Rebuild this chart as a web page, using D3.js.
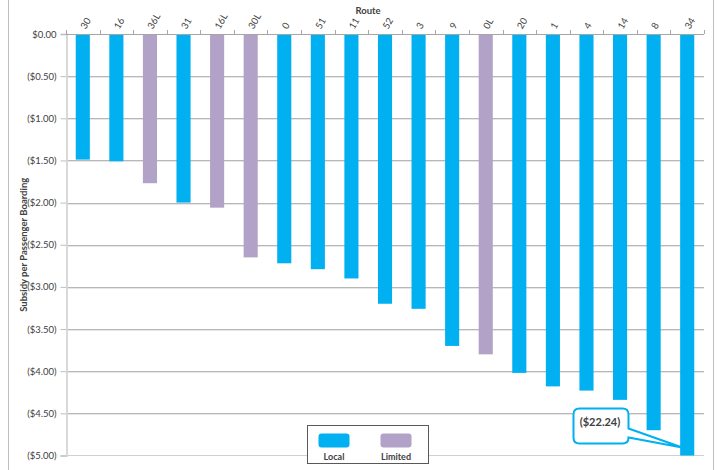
<!DOCTYPE html>
<html>
<head>
<meta charset="utf-8">
<title>Subsidy per Passenger Boarding</title>
<script src="https://d3js.org/d3.v7.min.js"></script>
<style>
  body { margin: 0; background: #fff; }
  svg text { font-family: Lato, "Open Sans", sans-serif; fill: #404040; }
</style>
</head>
<body>
<script>

// data
var routes = ["30", "16", "36L", "31", "16L", "30L", "0", "51", "11", "52", "3", "9", "0L", "20", "1", "4", "14", "8", "34"];
var subsidy = [-1.49, -1.51, -1.77, -2.00, -2.06, -2.65, -2.72, -2.79, -2.90, -3.20, -3.26, -3.70, -3.80, -4.02, -4.18, -4.23, -4.34, -4.70, -22.24];
var service = ["Local", "Local", "Limited", "Local", "Limited", "Limited", "Local", "Local", "Local", "Local", "Local", "Local", "Limited", "Local", "Local", "Local", "Local", "Local", "Local"];
var yTicks = [0, -0.5, -1, -1.5, -2, -2.5, -3, -3.5, -4, -4.5, -5];
var legendItems = ["Local", "Limited"];
var calloutLabel = "($22.24)";

var W = 718, H = 470;
var plotL = 66, plotR = 704, plotT = 34, plotB = 455.5;

var color = d3.scaleOrdinal().domain(legendItems).range(["#00b0f0", "#b3a2c7"]);

var x = d3.scaleBand().domain(routes).range([plotL, plotR]).paddingInner(0.58).paddingOuter(0.29);
var xb = d3.scaleBand().domain(routes).range([plotL, plotR]); // for boundary ticks
var y = d3.scaleLinear().domain([-5, 0]).range([plotB, plotT]);

var svg = d3.select("body").append("svg")
    .attr("width", W)
    .attr("height", H);

// outer frame lines
svg.append("line").attr("x1", 8.5).attr("x2", 8.5).attr("y1", 0).attr("y2", H).attr("stroke", "#bfbfbf");
svg.append("line").attr("x1", 713.5).attr("x2", 713.5).attr("y1", 0).attr("y2", H).attr("stroke", "#bfbfbf");

// gridlines
var grid = svg.append("g");
yTicks.filter(function(d) { return d < 0 && d > -5; }).forEach(function(d) {
  var yy = Math.round(y(d));
  grid.append("line").attr("x1", plotL).attr("x2", plotR).attr("y1", yy + 1.5).attr("y2", yy + 1.5).attr("stroke", "#e6e6e6");
  grid.append("line").attr("x1", plotL).attr("x2", plotR).attr("y1", yy + 0.5).attr("y2", yy + 0.5).attr("stroke", "#b8b8b8");
});
svg.append("line").attr("x1", plotL).attr("x2", plotR).attr("y1", plotB).attr("y2", plotB).attr("stroke", "#d0d0d0");

// left axis
var yAxis = svg.append("g")
    .attr("transform", "translate(" + (plotL + 0.5) + ",0)")
    .call(d3.axisLeft(y).tickValues(yTicks).tickSize(6).tickPadding(4)
      .tickFormat(function(d) {
        var s = "$" + Math.abs(d).toFixed(2);
        return d < 0 ? "(" + s + ")" : s;
      }));
yAxis.select(".domain").attr("stroke", "#d9d9d9").attr("stroke-width", 2);
yAxis.selectAll(".tick line").attr("stroke", "#bfbfbf");
yAxis.selectAll(".tick text").style("font-size", "9.5px").attr("fill", "#404040");

// bars
svg.append("g").selectAll("rect")
  .data(routes)
  .enter().append("rect")
  .attr("x", function(d) { return x(d); })
  .attr("width", x.bandwidth())
  .attr("y", y(0))
  .attr("height", function(d, i) { return y(Math.max(subsidy[i], -5)) - y(0); })
  .attr("fill", function(d, i) { return color(service[i]); });

// top axis line and boundary ticks
svg.append("line").attr("x1", plotL).attr("x2", plotR).attr("y1", plotT + 0.5).attr("y2", plotT + 0.5).attr("stroke", "#a6a6a6");
var bounds = routes.map(function(d) { return xb(d); }).concat([plotR]);
svg.append("g").selectAll("line")
  .data(bounds)
  .enter().append("line")
  .attr("x1", function(d) { return Math.round(d) + 0.5; })
  .attr("x2", function(d) { return Math.round(d) + 0.5; })
  .attr("y1", plotT - 4).attr("y2", plotT)
  .attr("stroke", "#a6a6a6");

// route labels, rotated
svg.append("g").selectAll("text")
  .data(routes)
  .enter().append("text")
  .attr("transform", function(d) { return "translate(" + (x(d) + x.bandwidth() / 2) + ",28) rotate(-60)"; })
  .attr("dy", "0.35em")
  .style("font-size", "9.5px")
  .text(function(d) { return d; });

// axis titles
svg.append("text")
  .attr("x", 368).attr("y", 14)
  .attr("text-anchor", "middle")
  .style("font-size", "9.5px").style("font-weight", "bold").attr("fill", "#000")
  .text("Route");

svg.append("text")
  .attr("transform", "translate(27," + ((plotT + plotB) / 2) + ") rotate(-90)")
  .attr("text-anchor", "middle")
  .style("font-size", "9.5px").style("font-weight", "bold").attr("fill", "#000")
  .text("Subsidy per Passenger Boarding");

// callout for the clipped bar
var last = routes[routes.length - 1];
var tipX = x(last) + 2, tipY = plotB - 8;
var bx = 573.5, by = 408.5, bw = 55, bh = 35, r = 6;
var callout = svg.append("g");
callout.append("path")
  .attr("d",
    "M" + (bx + r) + "," + by +
    " H" + (bx + bw - r) +
    " Q" + (bx + bw) + "," + by + " " + (bx + bw) + "," + (by + r) +
    " V" + (by + 20) +
    " L" + tipX + "," + tipY +
    " L" + (bx + bw) + "," + (by + 29) +
    " V" + (by + bh - r) +
    " Q" + (bx + bw) + "," + (by + bh) + " " + (bx + bw - r) + "," + (by + bh) +
    " H" + (bx + r) +
    " Q" + bx + "," + (by + bh) + " " + bx + "," + (by + bh - r) +
    " V" + (by + r) +
    " Q" + bx + "," + by + " " + (bx + r) + "," + by + " Z")
  .attr("fill", "#fff")
  .attr("stroke", "#00b0f0")
  .attr("stroke-width", 2);
callout.append("text")
  .attr("x", bx + bw / 2 - 1).attr("y", by + 17)
  .attr("text-anchor", "middle")
  .style("font-size", "11px").style("font-weight", "bold").attr("fill", "#7f7f7f")
  .text(calloutLabel);

// legend
var legend = svg.append("g").attr("transform", "translate(307.5,425.5)");
legend.append("rect").attr("width", 121).attr("height", 38).attr("fill", "#fff").attr("stroke", "#595959");
var li = legend.selectAll(".item")
  .data(legendItems)
  .enter().append("g")
  .attr("transform", function(d, i) { return "translate(" + (11 + i * 62) + ",8)"; });
li.append("rect").attr("width", 31).attr("height", 14).attr("rx", 3).attr("fill", function(d) { return color(d); });
li.append("text")
  .attr("x", 15.5).attr("y", 26)
  .attr("text-anchor", "middle")
  .style("font-size", "9px").style("font-weight", "bold").attr("fill", "#262626")
  .text(function(d) { return d; });

</script>
</body>
</html>
